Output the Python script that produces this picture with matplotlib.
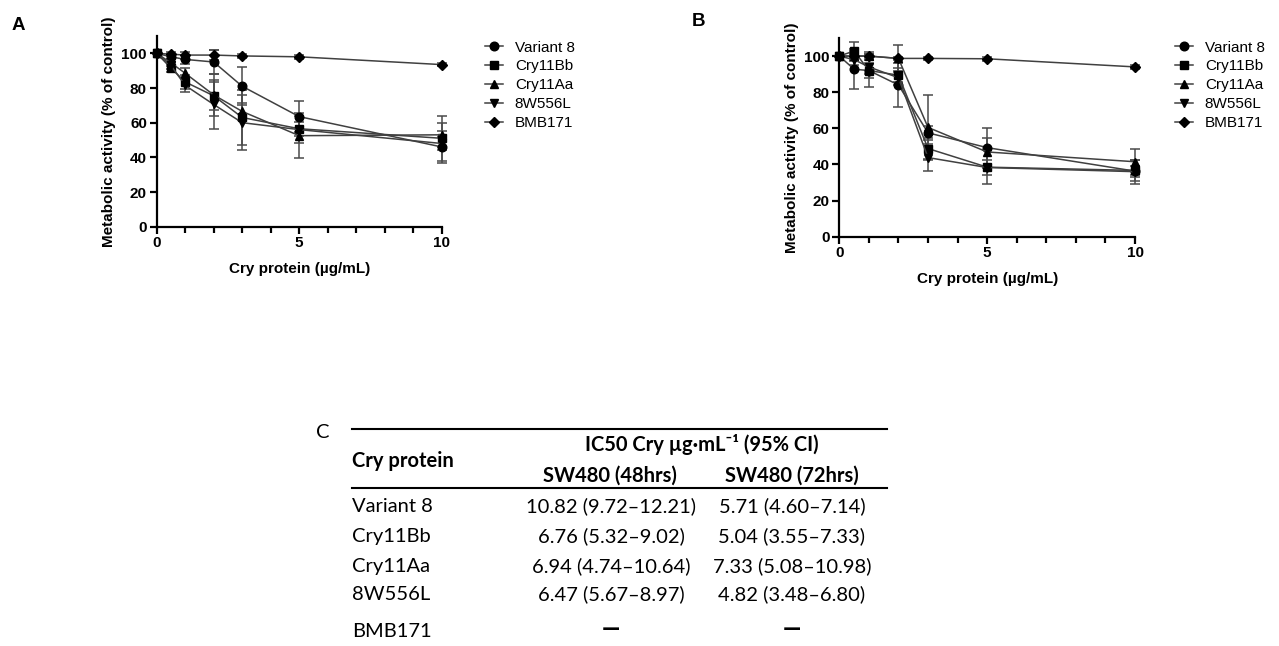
import matplotlib
matplotlib.use("Agg")
import matplotlib.pyplot as plt
from matplotlib.lines import Line2D
from matplotlib.ticker import MultipleLocator, FixedLocator

# ---------------- data ----------------
conc = [0, 0.5, 1, 2, 3, 5, 10]
series_names = ["Variant 8", "Cry11Bb", "Cry11Aa", "8W556L", "BMB171"]
series_markers = ["o", "s", "^", "v", "D"]

# Panel A (48 h)
variant8_A = [100, 98, 96.5, 95, 81, 63.5, 46]
variant8_A_err = [0, 1.5, 2.5, 7, 11, 9, 9]
cry11bb_A = [100, 91.5, 83.5, 75.5, 63, 56.5, 51]
cry11bb_A_err = [0, 2.5, 4, 8, 16, 4, 13]
cry11aa_A = [100, 94.5, 88.5, 76, 66.5, 52.5, 53]
cry11aa_A_err = [0, 2, 3, 12, 5, 13, 7]
w556l_A = [100, 93, 81.5, 70.5, 60, 56, 48]
w556l_A_err = [0, 2, 4, 14, 16, 8, 4]
bmb171_A = [100, 99.5, 99, 99, 98.5, 98, 93.5]
bmb171_A_err = [0, 1, 2, 3, 1, 1, 1]

# Panel B (72 h)
variant8_B = [100, 92.7, 92, 84, 57.5, 49.3, 36.3]
variant8_B_err = [0, 11, 9, 12, 4, 11, 3]
cry11bb_B = [100, 102.8, 92, 89.4, 48.8, 38.5, 36.7]
cry11bb_B_err = [0, 5, 4, 4, 6, 9.5, 6]
cry11aa_B = [100, 100, 100, 98.7, 60.5, 46.9, 41.5]
cry11aa_B_err = [0, 3, 2, 7.5, 18, 8, 7.3]
w556l_B = [100, 98, 94, 88, 43.8, 38.3, 36]
w556l_B_err = [0, 3, 4, 4, 7.5, 4, 6.6]
bmb171_B = [100, 100, 100, 98.7, 98.7, 98.5, 94]
bmb171_B_err = [0, 1, 1, 1, 1, 1, 1]

panel_A = [(variant8_A, variant8_A_err), (cry11bb_A, cry11bb_A_err),
           (cry11aa_A, cry11aa_A_err), (w556l_A, w556l_A_err),
           (bmb171_A, bmb171_A_err)]
panel_B = [(variant8_B, variant8_B_err), (cry11bb_B, cry11bb_B_err),
           (cry11aa_B, cry11aa_B_err), (w556l_B, w556l_B_err),
           (bmb171_B, bmb171_B_err)]

# Table C
table_proteins = ["Variant 8", "Cry11Bb", "Cry11Aa", "8W556L", "BMB171"]
ic50_48h = ["10.82 (9.72\u201312.21)", "6.76 (5.32\u20139.02)",
            "6.94 (4.74\u201310.64)", "6.47 (5.67\u20138.97)", "\u2014"]
ic50_72h = ["5.71 (4.60\u20137.14)", "5.04 (3.55\u20137.33)",
            "7.33 (5.08\u201310.98)", "4.82 (3.48\u20136.80)", "\u2014"]

# ---------------- figure ----------------
W, H = 1279, 646
fig = plt.figure(figsize=(W / 100, H / 100), dpi=100)
plt.rcParams['font.family'] = ['Liberation Sans', 'DejaVu Sans']


def fx(x):
    return x / W


def fy(y):
    return 1 - y / H


def make_axes(left, right, top, bottom):
    return fig.add_axes([fx(left), fy(bottom), fx(right - left), (bottom - top) / H])


line_col = "#404040"
MS = {"o": 6.2, "s": 6.0, "^": 6.0, "v": 6.0, "D": 4.6}


def draw_panel(ax, data):
    for (vals, errs), mk in zip(data, series_markers):
        ax.errorbar(conc, vals, yerr=errs, marker=mk, color=line_col,
                    mfc="black", mec="black", ms=MS[mk], lw=1.1,
                    elinewidth=1.1, ecolor="#4a4a4a", capsize=3.5,
                    capthick=1.1, clip_on=False, zorder=3)
    ax.set_xlim(0, 10)
    ax.set_ylim(0, 110)
    ax.xaxis.set_major_locator(FixedLocator([0, 5, 10]))
    ax.xaxis.set_minor_locator(FixedLocator([1, 2, 3, 4, 6, 7, 8, 9]))
    ax.yaxis.set_major_locator(MultipleLocator(20))
    for s in ("top", "right"):
        ax.spines[s].set_visible(False)
    for s in ("left", "bottom"):
        ax.spines[s].set_linewidth(1.6)
    ax.tick_params(axis="both", which="major", length=5, width=1.6,
                   labelsize=11, pad=2)
    ax.tick_params(axis="x", which="minor", length=4, width=1.6)
    for lab in ax.get_xticklabels() + ax.get_yticklabels():
        lab.set_fontweight("bold")
    ax.set_xlabel("Cry protein (\u00b5g/mL)", fontsize=11, fontweight="bold", labelpad=8)
    ax.set_ylabel("Metabolic activity (% of control)", fontsize=11,
                  fontweight="bold", labelpad=4)
    handles = [Line2D([], [], color=line_col, lw=1.1, marker=mk, mfc="black",
                      mec="black", ms=MS[mk])
               for mk in series_markers]
    return handles


axA = make_axes(156.7, 441.7, 36, 226.7)
hA = draw_panel(axA, panel_A)
axB = make_axes(839.3, 1135, 38, 236.7)
hB = draw_panel(axB, panel_B)

legkw = dict(frameon=False, fontsize=11, handlelength=1.2, handletextpad=0.75,
             labelspacing=0.32, borderpad=0, borderaxespad=0, loc="upper left")
fig.legend(hA, series_names, bbox_to_anchor=(fx(485), fy(40.5)), **legkw)
fig.legend(hB, series_names, bbox_to_anchor=(fx(1175), fy(40.5)), **legkw)

fig.text(fx(18), fy(25), "A", fontsize=13.5, fontweight="bold", ha="center", va="center")
fig.text(fx(698), fy(22), "B", fontsize=13.5, fontweight="bold", ha="center", va="center")

# ---------------- table C ----------------
tfont = ['Lato', 'DejaVu Sans']
tsize = 14.5
BL = 7  # baseline offset below visual centre (px)
fig.text(fx(323), fy(431 + BL), "C", fontsize=tsize, family=tfont, ha="center", va="baseline")
fig.add_artist(Line2D([fx(352), fx(887)], [fy(429), fy(429)], color="black", lw=1.5))
fig.add_artist(Line2D([fx(352), fx(887)], [fy(487.5), fy(487.5)], color="black", lw=1.5))
fig.text(fx(352), fy(460 + BL), "Cry protein", fontsize=tsize, family=tfont,
         fontweight="bold", ha="left", va="baseline")
fig.text(fx(702), fy(444 + BL), "IC50 Cry \u00b5g\u00b7mL\u207b\u00b9 (95% CI)", fontsize=tsize,
         family=tfont, fontweight="bold", ha="center", va="baseline")
fig.text(fx(610), fy(475 + BL), "SW480 (48hrs)", fontsize=tsize, family=tfont,
         fontweight="bold", ha="center", va="baseline")
fig.text(fx(792), fy(475 + BL), "SW480 (72hrs)", fontsize=tsize, family=tfont,
         fontweight="bold", ha="center", va="baseline")

row_y = [505, 535, 565, 593, 630]
for name, v48, v72, yy in zip(table_proteins, ic50_48h, ic50_72h, row_y):
    fig.text(fx(352), fy(yy + BL), name, fontsize=tsize, family=tfont, ha="left", va="baseline")
    for val, cx in ((v48, 611), (v72, 792)):
        if val == "\u2014":
            fig.text(fx(cx), fy(yy), val, fontsize=tsize + 2, family=tfont,
                     fontweight="heavy", ha="center", va="center")
        else:
            fig.text(fx(cx), fy(yy + BL), val, fontsize=tsize, family=tfont,
                     ha="center", va="baseline")

fig.savefig("out.png", dpi=100)
